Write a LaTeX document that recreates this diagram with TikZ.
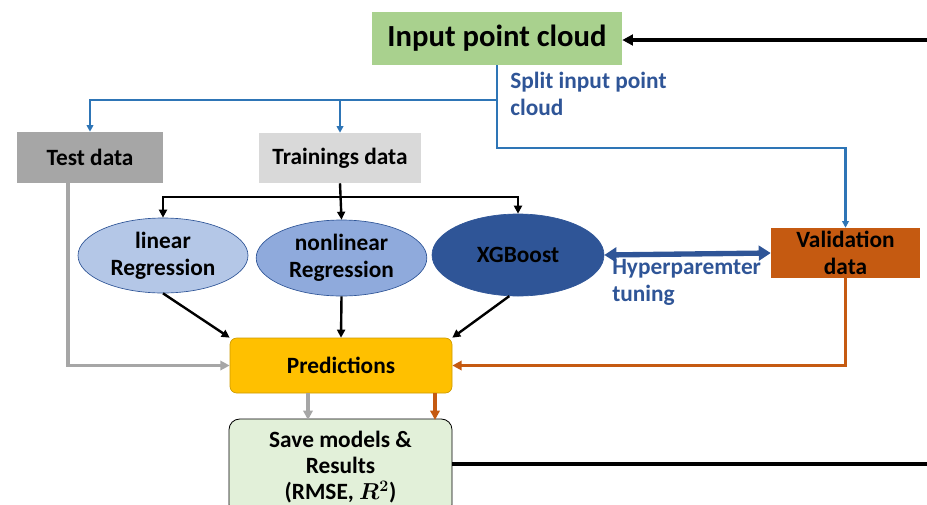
\documentclass[tikz,border=0pt]{standalone}
\usepackage{fontspec}
\setmainfont{Carlito}
\usetikzlibrary{positioning,arrows.meta,calc,shapes.geometric}
\definecolor{InputGreen}{RGB}{169,209,142}
\definecolor{TestGray}{RGB}{166,166,166}
\definecolor{TrainGray}{RGB}{217,217,217}
\definecolor{LinBlue}{RGB}{180,199,231}
\definecolor{NonlinBlue}{RGB}{143,170,220}
\definecolor{XgbBlue}{RGB}{47,85,151}
\definecolor{ValOrange}{RGB}{197,90,17}
\definecolor{PredYellow}{RGB}{255,192,0}
\definecolor{SaveGreen}{RGB}{226,240,217}
\definecolor{SplitBlue}{RGB}{46,117,182}
\tikzset{
  txt/.style={font=\fontsize{17.5}{20.5}\selectfont\bfseries,align=center},
  box/.style={txt,inner sep=0pt},
  model/.style={txt,ellipse,draw=XgbBlue,line width=0.5pt,inner sep=0pt},
  splitflow/.style={-{Triangle[length=5pt,width=5pt]},line width=1.6pt,draw=SplitBlue},
  flow/.style={-{Triangle[length=6pt,width=6pt]},line width=1.8pt,draw=black},
  grayflow/.style={-{Triangle[length=7pt,width=7pt]},line width=2.4pt,draw=TestGray},
  orangeflow/.style={-{Triangle[length=7pt,width=7pt]},line width=2.4pt,draw=ValOrange},
  loopflow/.style={line width=3pt,draw=black},
  tuneflow/.style={{Triangle[length=9pt,width=11pt]}-{Triangle[length=9pt,width=11pt]},line width=4pt,draw=XgbBlue},
  bluelabel/.style={font=\fontsize{17.5}{20.5}\selectfont\bfseries,text=XgbBlue,align=left,inner sep=0pt}
}
\begin{document}
\begin{tikzpicture}[x=0.75pt,y=-0.75pt]
  \clip (0,0) rectangle (927,504);
  % boxes
  \node[box,fill=InputGreen,minimum width=187.5pt,minimum height=39.75pt,
    font=\fontsize{23}{27}\selectfont\bfseries] (input) at (497,38.5) {Input point cloud};
  \node[box,fill=TestGray,minimum width=109.5pt,minimum height=38.25pt] (test) at (90,157.5) {Test data};
  \node[box,fill=TrainGray,minimum width=121.5pt,minimum height=37.5pt] (train) at (340,158) {Trainings data};
  \node[model,fill=LinBlue,minimum width=127.5pt,minimum height=56.25pt] (lin) at (163,255.5) {linear\\Regression};
  \node[model,fill=NonlinBlue,minimum width=128pt,minimum height=57pt] (nonlin) at (341.5,258) {nonlinear\\Regression};
  \node[model,fill=XgbBlue,minimum width=129pt,minimum height=61.5pt] (xgb) at (518,255) {XGBoost};
  \node[box,fill=ValOrange,minimum width=111.75pt,minimum height=37.5pt] (valid) at (845.5,253) {Validation\\data};
  \node[box,fill=PredYellow,draw=PredYellow!80!black,line width=0.5pt,rounded corners=5pt,
    minimum width=166.5pt,minimum height=41.25pt] (pred) at (341,365.5) {Predictions};
  \node[box,fill=SaveGreen,draw=black,line width=0.6pt,rounded corners=8pt,
    font=\fontsize{17.5}{19.5}\selectfont\bfseries,
    minimum width=167.25pt,minimum height=72pt] (save) at (340.5,467) {Save models \&\\Results\\(RMSE, {\boldmath$R^{2}$})};
  % labels
  \node[bluelabel,anchor=north west] (splitlbl) at (510,72) {Split input point\\cloud};
  \node[bluelabel,anchor=north west] (tunelbl) at (612,259) {Hyperparemter\\tuning};
  % split into test / training / validation
  \coordinate (split) at (497,100);
  \coordinate (splitlow) at (497,148);
  \draw[splitflow] (input.south) -- (split) -| (test.north);
  \draw[splitflow] (split -| train.north) -- (train.north);
  \draw[splitflow] (split) -- (splitlow) -| (valid.north);
  % training data to the models
  \coordinate (tbranch) at (341,197);
  \draw[flow] (train.south) -- (nonlin.north);
  \draw[flow] (tbranch) -| (lin.north);
  \draw[flow] (tbranch) -| (xgb.north);
  % hyperparameter tuning
  \draw[tuneflow] (xgb.east) -- (valid.west);
  % models to predictions
  \draw[flow] (lin.south) -- (pred.north west);
  \draw[flow] (nonlin.south) -- (pred.north);
  \draw[flow] (xgb.258) -- (pred.north east);
  \draw[grayflow] ([xshift=-16.5pt]test.south) |- (pred.west);
  \draw[orangeflow] (valid.south) |- (pred.east);
  % predictions to results
  \draw[grayflow] ([xshift=-24.75pt]pred.south) -- ([xshift=-24.75pt,yshift=-1pt]pred.south |- save.north);
  \draw[orangeflow] ([xshift=70.5pt]pred.south) -- ([xshift=70.5pt,yshift=-1pt]pred.south |- save.north);
  % loop back to the input
  \coordinate (loopout) at (940,464);
  \coordinate (loopin) at (940,40);
  \draw[loopflow] (save.east |- loopout) -- (loopout);
  \draw[loopflow,-{Triangle[length=8pt,width=8pt]}] (loopin) -- (input.east |- loopin);
\end{tikzpicture}
\end{document}
